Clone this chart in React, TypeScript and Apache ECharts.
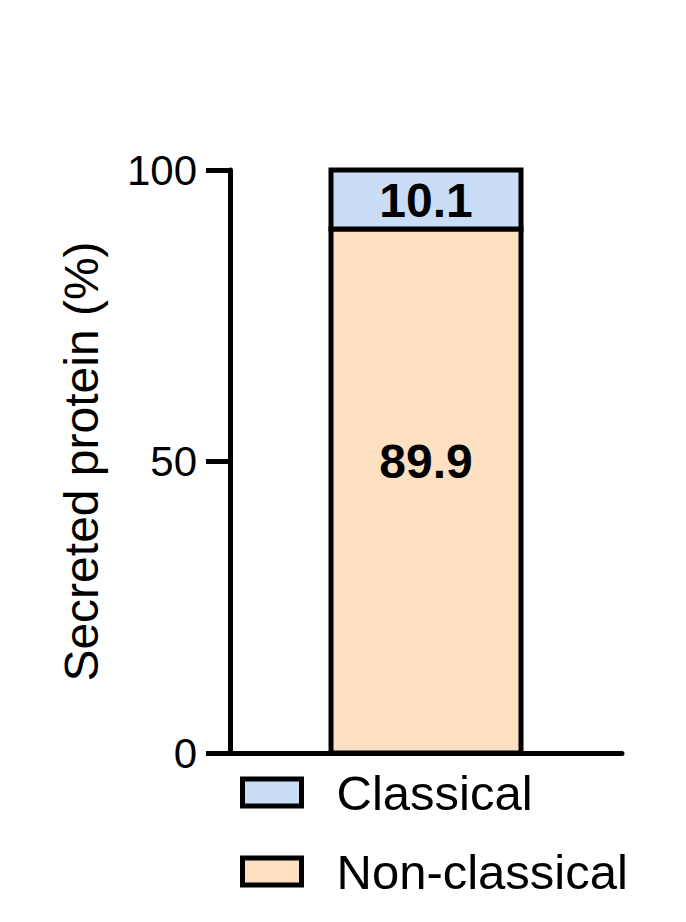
import React, { useEffect, useRef } from 'react';
import * as echarts from 'echarts';

// Data
const categories = ['Secreted protein'];
const seriesNames = ['Non-classical', 'Classical']; // stacking order, bottom first
const legendOrder = ['Classical', 'Non-classical'];
const nonClassicalValues = [89.9];
const classicalValues = [10.1];

const FONT = '"Liberation Sans", Arial, Helvetica, sans-serif';
const COLORS = ['#fde0c2', '#c9def6'];
const LABEL_OFFSETS = [-29, 1];
const BAR_WIDTH = 190;
const BORDER = 5;

// stacked segments: [categoryIndex, start, end]
function stackSegments(values: number[][]) {
  const base = categories.map(() => 0);
  return values.map((vals) =>
    vals.map((v, i) => {
      const start = base[i];
      base[i] += v;
      return [i, start, base[i], v];
    })
  );
}

export default function App() {
  const chartRef = useRef<HTMLDivElement>(null);

  useEffect(() => {
    if (!chartRef.current) return;
    const chart = echarts.init(chartRef.current, null, { renderer: 'svg' });

    const segments = stackSegments([nonClassicalValues, classicalValues]);

    const series = seriesNames.map((name, s) => ({
      name,
      type: 'custom',
      itemStyle: { color: COLORS[s] },
      encode: { x: 0, y: [1, 2] },
      data: segments[s],
      renderItem: (_params: any, api: any) => {
        const x = api.value(0);
        const lo = api.coord([x, api.value(1)]);
        const hi = api.coord([x, api.value(2)]);
        return {
          type: 'rect',
          shape: {
            x: lo[0] - BAR_WIDTH / 2,
            y: hi[1],
            width: BAR_WIDTH,
            height: lo[1] - hi[1],
          },
          style: { fill: COLORS[s], stroke: '#000', lineWidth: BORDER },
          textContent: {
            style: {
              text: String(api.value(3)),
              fontFamily: FONT,
              fontSize: 48,
              fontWeight: 'bold',
              fill: '#000',
            },
          },
          textConfig: { position: 'inside', offset: [0, LABEL_OFFSETS[s]] },
        };
      },
    }));

    chart.setOption({
      animation: false,
      backgroundColor: '#fff',
      textStyle: { fontFamily: FONT, color: '#000' },
      grid: { left: 230, right: 64, top: 170, bottom: 169 },
      legend: {
        data: legendOrder,
        orient: 'vertical',
        icon: 'rect',
        left: 240,
        top: 768,
        padding: 0,
        itemWidth: 59,
        itemHeight: 27,
        itemGap: 30,
        itemStyle: { borderColor: '#000', borderWidth: 5 },
        textStyle: {
          fontFamily: FONT,
          fontSize: 49,
          color: '#000',
          padding: [0, 0, 0, 30],
        },
      },
      xAxis: {
        type: 'category',
        data: categories,
        axisLine: { lineStyle: { color: '#000', width: 5 } },
        axisTick: { show: false },
        axisLabel: { show: false },
      },
      yAxis: {
        type: 'value',
        min: 0,
        max: 100,
        interval: 50,
        name: 'Secreted protein (%)',
        nameLocation: 'middle',
        nameGap: 125,
        nameTextStyle: { fontFamily: FONT, fontSize: 48, color: '#000' },
        axisLine: { show: true, lineStyle: { color: '#000', width: 5 } },
        axisTick: { show: true, length: 24, lineStyle: { color: '#000', width: 5 } },
        axisLabel: { fontFamily: FONT, fontSize: 42, color: '#000', margin: 33 },
        splitLine: { show: false },
      },
      series,
    });

    return () => {
      chart.dispose();
    };
  }, []);

  return (
    <div
      ref={chartRef}
      style={{ position: 'absolute', left: 0, top: 0, width: 686, height: 922 }}
    />
  );
}
